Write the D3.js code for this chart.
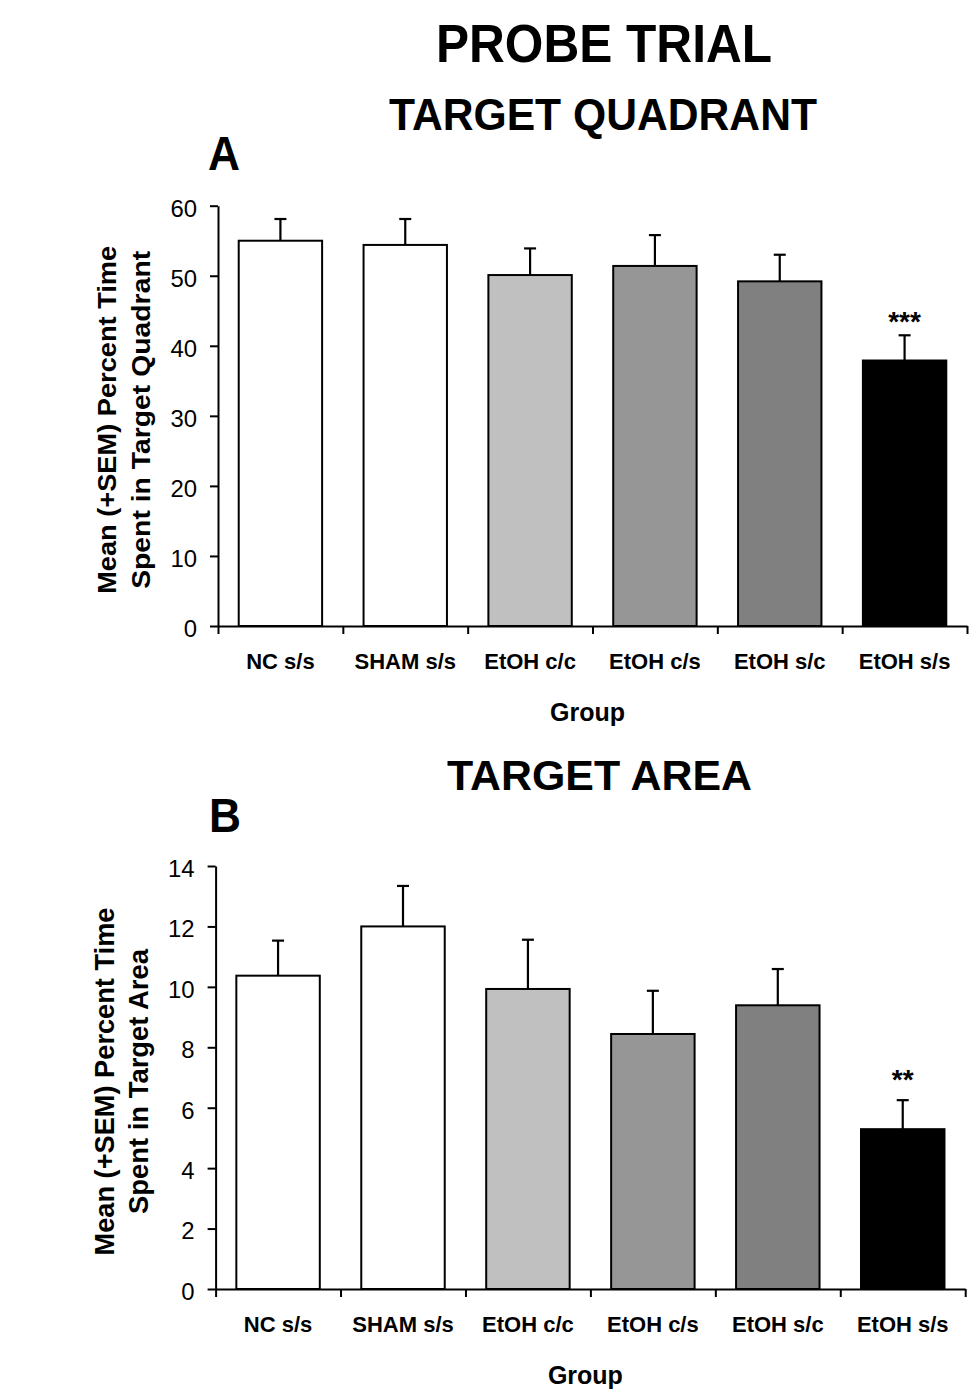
<!DOCTYPE html>
<html>
<head>
<meta charset="utf-8">
<script src="https://cdn.jsdelivr.net/npm/d3@7"></script>
<style>
  html, body { margin: 0; padding: 0; background: #fff; }
  svg { display: block; }
  text { font-family: "Liberation Sans", Arial, Helvetica, sans-serif; fill: #000; }
</style>
</head>
<body>
<svg id="chart" width="969" height="1398"></svg>
<script>
// ---------- DATA ----------
const groups = ["NC s/s", "SHAM s/s", "EtOH c/c", "EtOH c/s", "EtOH s/c", "EtOH s/s"];
const groupColors = ["#ffffff", "#ffffff", "#c0c0c0", "#969696", "#808080", "#000000"];

const quadrantMean = [55.0, 54.4, 50.1, 51.4, 49.2, 37.9];
const quadrantSem  = [3.1, 3.7, 3.8, 4.4, 3.8, 3.6];
const quadrantSig  = ["", "", "", "", "", "***"];
const quadrantTicks = [0, 10, 20, 30, 40, 50, 60];

const areaMean = [10.37, 12.0, 9.93, 8.44, 9.39, 5.29];
const areaSem  = [1.16, 1.34, 1.63, 1.43, 1.20, 0.96];
const areaSig  = ["", "", "", "", "", "**"];
const areaTicks = [0, 2, 4, 6, 8, 10, 12, 14];

const mainTitle = "PROBE TRIAL";
const yTitleLine1 = "Mean (+SEM) Percent Time";
const xTitle = "Group";

// ---------- DRAW ----------
const svg = d3.select("#chart");

svg.append("text").attr("x", 604).attr("y", 62)
  .attr("text-anchor", "middle").attr("font-weight", "bold")
  .attr("font-size", 53).attr("textLength", 336).attr("lengthAdjust", "spacingAndGlyphs")
  .text(mainTitle);

function panel(cfg) {
  const g = svg.append("g");
  const x = d3.scaleBand().domain(groups).range([cfg.x0, cfg.x1])
    .paddingInner(0.332).paddingOuter(0.166);
  const y = d3.scaleLinear().domain([0, d3.max(cfg.ticks)]).range([cfg.y0, cfg.y1]);

  // subtitle and panel letter
  g.append("text").attr("x", cfg.titleX).attr("y", cfg.titleY)
    .attr("text-anchor", "middle").attr("font-weight", "bold")
    .attr("font-size", cfg.titleSize).attr("textLength", cfg.titleLen)
    .attr("lengthAdjust", "spacingAndGlyphs").text(cfg.title);
  g.append("text").attr("x", cfg.letterX).attr("y", cfg.letterY)
    .attr("font-weight", "bold").attr("font-size", 49).attr("textLength", 32)
    .attr("lengthAdjust", "spacingAndGlyphs").text(cfg.letter);

  const data = groups.map((k, i) => ({ k, m: cfg.mean[i], s: cfg.sem[i], c: groupColors[i], sig: cfg.sig[i] }));

  // bars
  g.selectAll("rect.bar").data(data).join("rect").attr("class", "bar")
    .attr("x", d => x(d.k)).attr("width", x.bandwidth())
    .attr("y", d => y(d.m)).attr("height", d => y(0) - y(d.m))
    .attr("fill", d => d.c).attr("stroke", "#000").attr("stroke-width", 2);

  // error bars
  g.selectAll("line.err").data(data).join("line").attr("class", "err")
    .attr("x1", d => x(d.k) + x.bandwidth() / 2).attr("x2", d => x(d.k) + x.bandwidth() / 2)
    .attr("y1", d => y(d.m)).attr("y2", d => y(d.m + d.s))
    .attr("stroke", "#000").attr("stroke-width", 2.2);
  g.selectAll("line.cap").data(data).join("line").attr("class", "cap")
    .attr("x1", d => x(d.k) + x.bandwidth() / 2 - 6).attr("x2", d => x(d.k) + x.bandwidth() / 2 + 6)
    .attr("y1", d => y(d.m + d.s)).attr("y2", d => y(d.m + d.s))
    .attr("stroke", "#000").attr("stroke-width", 2.2);

  // significance
  g.selectAll("text.sig").data(data.filter(d => d.sig)).join("text").attr("class", "sig")
    .attr("x", d => x(d.k) + x.bandwidth() / 2).attr("y", d => y(d.m + d.s) - cfg.sigGap)
    .attr("text-anchor", "middle").attr("font-weight", "bold").attr("font-size", 28)
    .text(d => d.sig);

  // y axis
  const yAxis = g.append("g").attr("transform", `translate(${cfg.x0},0)`)
    .call(d3.axisLeft(y).tickValues(cfg.ticks).tickSize(8).tickSizeOuter(0).tickPadding(13));
  yAxis.selectAll("path, line").attr("stroke", "#000").attr("stroke-width", 2);
  yAxis.selectAll("text").attr("font-size", 23).attr("dy", "0.45em")
    .attr("textLength", d => String(d).length * 13.3).attr("lengthAdjust", "spacingAndGlyphs")
    .style("font-family", '"Liberation Sans", Arial, sans-serif');

  // x axis boundary ticks
  const xb = d3.scaleLinear().domain([0, groups.length]).range([cfg.x0, cfg.x1]);
  const xAxis = g.append("g").attr("transform", `translate(0,${cfg.y0})`)
    .call(d3.axisBottom(xb).ticks(groups.length).tickSize(8).tickSizeOuter(0).tickFormat(""));
  xAxis.selectAll("path, line").attr("stroke", "#000").attr("stroke-width", 2);

  // category labels
  const xl = g.append("g").attr("transform", `translate(0,${cfg.y0})`)
    .call(d3.axisBottom(x).tickSize(0).tickPadding(0));
  xl.select("path").remove();
  xl.selectAll("text").attr("font-size", 22).attr("font-weight", "bold")
    .attr("y", 43).attr("dy", 0)
    .style("font-family", '"Liberation Sans", Arial, sans-serif');

  // x title
  g.append("text").attr("x", (cfg.x0 + cfg.x1) / 2 - 5).attr("y", cfg.y0 + 95)
    .attr("text-anchor", "middle").attr("font-weight", "bold").attr("font-size", 25)
    .text(xTitle);

  // y title
  const cy = (cfg.y0 + cfg.y1) / 2 + 4;
  const yt = g.append("g").attr("transform", `translate(${cfg.x0 - cfg.yOff1},${cy}) rotate(-90)`);
  yt.append("text").attr("x", 0).attr("y", 0).attr("text-anchor", "middle")
    .attr("font-weight", "bold").attr("font-size", cfg.yFont).attr("textLength", 348)
    .attr("lengthAdjust", "spacingAndGlyphs").text(yTitleLine1);
  yt.append("text").attr("x", 0).attr("y", cfg.yOff1 - cfg.yOff2).attr("text-anchor", "middle")
    .attr("font-weight", "bold").attr("font-size", cfg.yFont).attr("textLength", cfg.yLine2Len)
    .attr("lengthAdjust", "spacingAndGlyphs").text(cfg.yLine2);
}

panel({
  x0: 218, x1: 967, y0: 626, y1: 205.7,
  ticks: quadrantTicks, mean: quadrantMean, sem: quadrantSem, sig: quadrantSig,
  title: "TARGET QUADRANT", titleX: 603, titleY: 130, titleSize: 44, titleLen: 428,
  letter: "A", letterX: 208, letterY: 170, sigGap: 4,
  yLine2: "Spent in Target Quadrant", yLine2Len: 338,
  yOff1: 102, yOff2: 68, yFont: 26
});

panel({
  x0: 215.6, x1: 965.2, y0: 1289, y1: 866,
  ticks: areaTicks, mean: areaMean, sem: areaSem, sig: areaSig,
  title: "TARGET AREA", titleX: 599.5, titleY: 790, titleSize: 43, titleLen: 305,
  letter: "B", letterX: 209, letterY: 832, sigGap: 11,
  yLine2: "Spent in Target Area", yLine2Len: 265,
  yOff1: 102, yOff2: 68, yFont: 28
});
</script>
</body>
</html>
